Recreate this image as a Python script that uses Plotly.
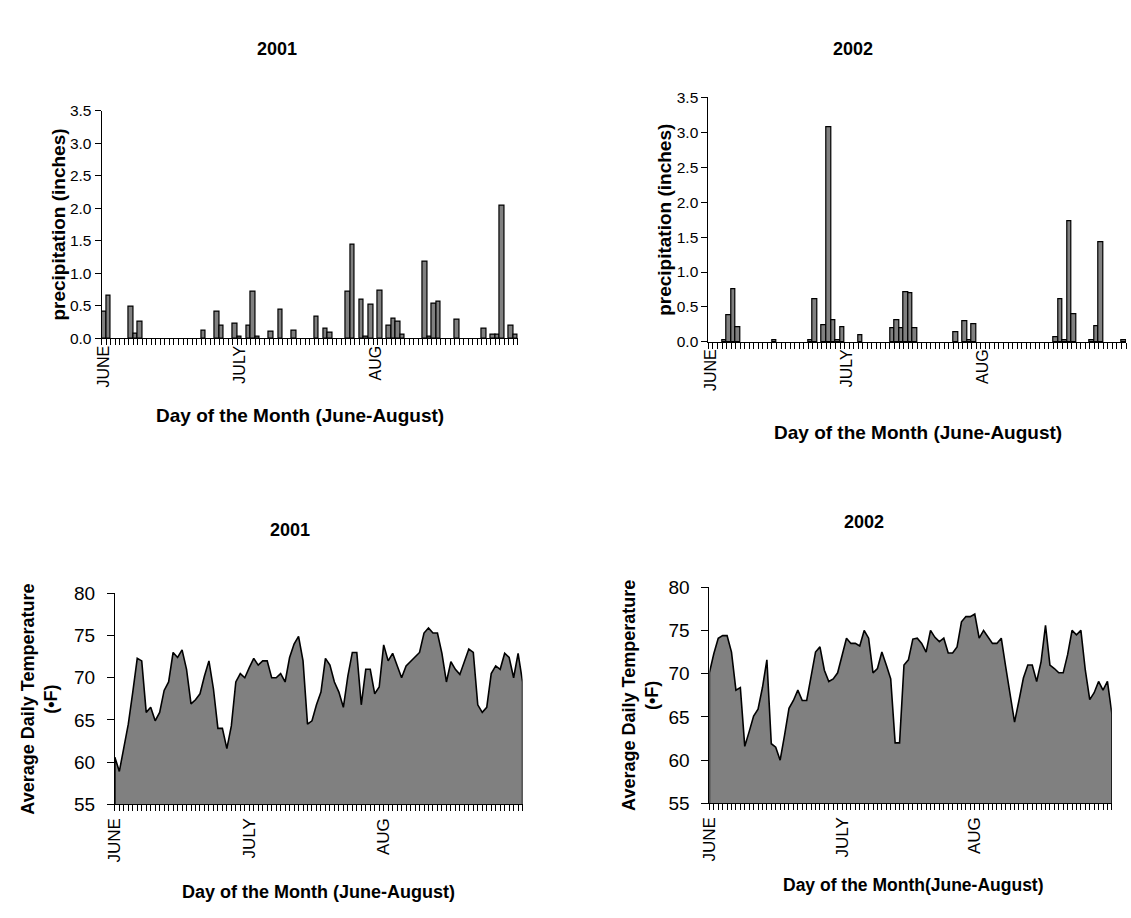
import plotly.graph_objects as go

W, H = 1131, 918

days = list(range(92))
label_days = [0, 30, 60]
month_labels = ["JUNE", "JULY", "AUG"]

precip_2001 = [
    0.41, 0.65, 0, 0, 0, 0, 0.49, 0.07, 0.25, 0,
    0, 0, 0, 0, 0, 0, 0, 0, 0, 0,
    0, 0, 0.12, 0, 0, 0.41, 0.20, 0, 0, 0.23,
    0.02, 0, 0.20, 0.72, 0.02, 0, 0, 0.10, 0, 0.44,
    0, 0, 0.12, 0, 0, 0, 0, 0.33, 0, 0.15,
    0.08, 0, 0, 0, 0.72, 1.44, 0, 0.59, 0.02, 0.52,
    0, 0.74, 0, 0.20, 0.30, 0.25, 0.05, 0, 0, 0,
    0, 1.18, 0.02, 0.54, 0.56, 0, 0, 0, 0.28, 0,
    0, 0, 0, 0, 0.15, 0, 0.05, 0.05, 2.04, 0,
    0.20, 0.05,
]

precip_2002 = [
    0, 0, 0, 0.03, 0.38, 0.75, 0.21, 0, 0, 0,
    0, 0, 0, 0, 0.02, 0, 0, 0, 0, 0,
    0, 0, 0.03, 0.61, 0, 0.24, 3.07, 0.31, 0.02, 0.21,
    0, 0, 0, 0.09, 0, 0, 0, 0, 0, 0,
    0.19, 0.31, 0.19, 0.71, 0.69, 0.19, 0, 0, 0, 0,
    0, 0, 0, 0, 0.14, 0, 0.30, 0.02, 0.25, 0,
    0, 0, 0, 0, 0, 0, 0, 0, 0, 0,
    0, 0, 0, 0, 0, 0, 0.06, 0.61, 0.02, 1.73,
    0.40, 0, 0, 0, 0.02, 0.23, 1.42, 0, 0, 0,
    0, 0.02,
]

temp_2001 = [
    60.6, 58.9, 61.6, 64.5, 68.3, 72.3, 72.0, 65.9, 66.5, 64.9,
    65.9, 68.5, 69.5, 73.0, 72.4, 73.3, 71.0, 66.9, 67.4, 68.1,
    70.2, 72.0, 68.7, 64.0, 64.0, 61.6, 64.3, 69.5, 70.5, 70.0,
    71.2, 72.3, 71.5, 72.0, 72.0, 70.0, 70.0, 70.5, 69.5, 72.4,
    74.0, 74.9, 72.0, 64.5, 64.9, 66.8, 68.3, 72.3, 71.5, 69.5,
    68.3, 66.5, 70.2, 73.0, 73.0, 66.8, 71.0, 71.0, 68.1, 68.9,
    73.9, 72.0, 72.9, 71.4, 70.0, 71.4, 71.9, 72.4, 73.0, 75.3,
    75.9, 75.3, 75.3, 72.9, 69.5, 71.9, 71.0, 70.4, 71.8, 73.4,
    73.0, 66.8, 65.9, 66.5, 70.5, 71.4, 71.0, 72.9, 72.4, 70.0,
    72.9, 69.5,
]

temp_2002 = [
    70.1, 72.3, 74.1, 74.4, 74.4, 72.5, 68.1, 68.4, 61.6, 63.3,
    65.1, 65.9, 68.4, 71.6, 61.9, 61.5, 60.0, 62.9, 66.0, 66.9,
    68.1, 66.9, 66.9, 69.7, 72.5, 73.1, 70.4, 69.1, 69.4, 70.1,
    72.0, 74.1, 73.5, 73.5, 73.2, 75.0, 74.1, 70.1, 70.6, 72.5,
    71.0, 69.4, 62.0, 62.0, 71.0, 71.6, 74.0, 74.1, 73.5, 72.5,
    75.0, 74.2, 73.7, 74.1, 72.4, 72.4, 73.1, 76.0, 76.6, 76.6,
    76.9, 74.1, 75.0, 74.3, 73.5, 73.5, 74.1, 70.8, 67.5, 64.4,
    66.9, 69.5, 71.0, 71.0, 69.1, 71.4, 75.6, 71.0, 70.6, 70.1,
    70.1, 72.2, 75.0, 74.5, 75.0, 70.4, 67.0, 67.8, 69.1, 68.1,
    69.1, 65.4,
]

TEMP_MIN, TEMP_MAX = 55, 80
PRECIP_MAX = 3.5

FONT = "Liberation Sans, Arial, sans-serif"
GRAY = "#808080"


def fx(px):
    return px / W


def fy(py):
    return 1 - py / H


fig = go.Figure()

# precipitation bars (no outline drawn for dry days)
for vals, xa, ya in [(precip_2001, "x", "y"), (precip_2002, "x2", "y2")]:
    fig.add_trace(go.Bar(
        x=days, y=vals, xaxis=xa, yaxis=ya,
        marker=dict(color=GRAY,
                    line=dict(color="black",
                              width=[1.2 if v > 0 else 0 for v in vals])),
        showlegend=False))

# temperature areas (closed polygon down to axis minimum)
for t, xa, ya in [(temp_2001, "x3", "y3"), (temp_2002, "x4", "y4")]:
    fig.add_trace(go.Scatter(
        x=[days[0]] + days + [days[-1]],
        y=[TEMP_MIN] + t + [TEMP_MIN],
        xaxis=xa, yaxis=ya, mode="lines", fill="toself",
        fillcolor=GRAY, line=dict(color="black", width=1.6),
        showlegend=False))


def xaxis_bar(domain, anchor):
    return dict(domain=domain, anchor=anchor, range=[-0.5, 91.5],
                tickmode="array", tickvals=label_days, ticktext=month_labels,
                tickangle=-90, ticks="", showline=True, linecolor="black",
                linewidth=1, showgrid=False, zeroline=False,
                tickfont=dict(family=FONT, size=16, color="black"),
                minor=dict(tickmode="linear", tick0=-0.5, dtick=1,
                           ticks="outside", ticklen=6, tickcolor="black",
                           tickwidth=1, showgrid=False))


def xaxis_area(domain, anchor):
    return dict(domain=domain, anchor=anchor, range=[0, 91],
                tickmode="array", tickvals=label_days, ticktext=month_labels,
                tickangle=-90, ticks="outside", ticklen=6, tickcolor="black",
                showline=True, linecolor="black",
                linewidth=1, showgrid=False, zeroline=False,
                tickfont=dict(family=FONT, size=17, color="black"),
                minor=dict(tickmode="linear", tick0=0, dtick=1,
                           ticks="outside", ticklen=6, tickcolor="black",
                           tickwidth=1, showgrid=False))


def yaxis_p(domain, anchor):
    return dict(domain=domain, anchor=anchor, range=[0, PRECIP_MAX],
                tickmode="linear", tick0=0, dtick=0.5, tickformat=".1f",
                ticks="outside", ticklen=6, tickcolor="black",
                showline=True, linecolor="black", linewidth=1,
                showgrid=False, zeroline=False,
                tickfont=dict(family=FONT, size=15.5, color="black"))


def yaxis_t(domain, anchor):
    return dict(domain=domain, anchor=anchor, range=[TEMP_MIN, TEMP_MAX],
                tickmode="linear", tick0=TEMP_MIN, dtick=5,
                ticks="outside", ticklen=7, tickcolor="black",
                ticklabelstandoff=8,
                showline=True, linecolor="black", linewidth=1,
                showgrid=False, zeroline=False,
                tickfont=dict(family=FONT, size=19, color="black"))


fig.update_layout(
    width=W, height=H, margin=dict(l=0, r=0, t=0, b=0),
    paper_bgcolor="white", plot_bgcolor="white",
    bargap=0,
    xaxis=xaxis_bar([fx(93.3), fx(513)], "y"),
    yaxis=yaxis_p([fy(336), fy(103)], "x"),
    xaxis2=xaxis_bar([fx(705), fx(1126)], "y2"),
    yaxis2=yaxis_p([fy(339.7), fy(89.3)], "x2"),
    xaxis3=xaxis_area([fx(106.7), fx(517.7)], "y3"),
    yaxis3=yaxis_t([fy(813), fy(597)], "x3"),
    xaxis4=xaxis_area([fx(706), fx(1111.7)], "y4"),
    yaxis4=yaxis_t([fy(812), fy(590.7)], "x4"),
)

ann = []


def add_text(text, x, y, size, angle=0):
    ann.append(dict(text=text, x=fx(x), y=fy(y), xref="paper", yref="paper",
                    showarrow=False, textangle=angle, xanchor="center",
                    yanchor="middle",
                    font=dict(family=FONT, size=size, color="black")))


add_text("<b>2001</b>", 270, 40, 18)
add_text("<b>2002</b>", 851, 40, 18)
add_text("<b>precipitation (inches)</b>", 50, 220, 19, -90)
add_text("<b>precipitation (inches)</b>", 660, 215, 19, -90)
add_text("<b>Day of the Month (June-August)</b>", 293, 415, 19)
add_text("<b>Day of the Month (June-August)</b>", 916, 432, 19)
add_text("<b>2001</b>", 283, 532, 18)
add_text("<b>2002</b>", 862, 524, 18)
add_text("<b>Average Daily Temperature<br>(•F)</b>", 31, 705, 18, -90)
add_text("<b>Average Daily Temperature<br>(•F)</b>", 637, 701, 18, -90)
add_text("<b>Day of the Month (June-August)</b>", 312, 903, 18)
add_text("<b>Day of the Month(June-August)</b>", 912, 895, 17.5)

fig.update_layout(annotations=ann)

fig.write_html("out.html",
               config={"displayModeBar": False},
               post_script="document.body.style.margin='0px';"
                           "document.body.style.overflow='hidden';")
